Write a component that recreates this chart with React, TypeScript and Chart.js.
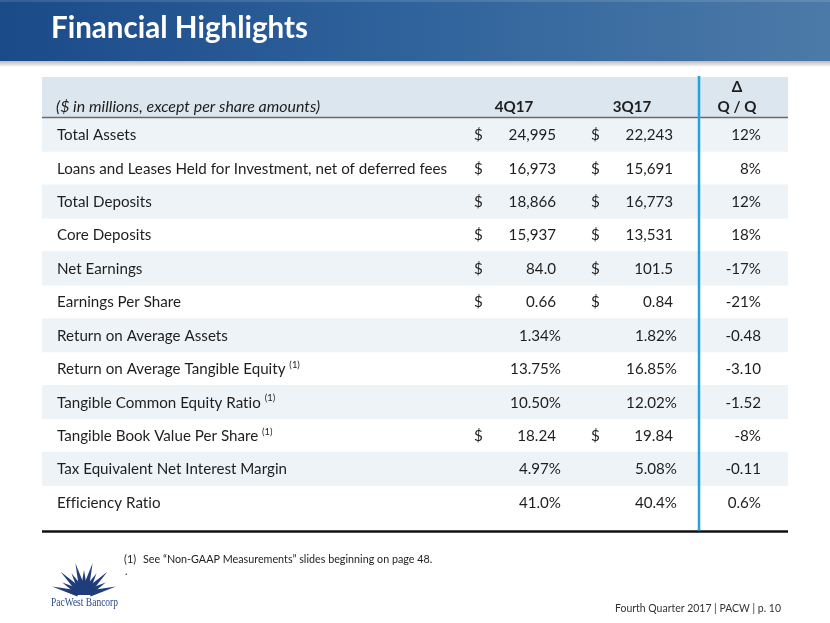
import React, { useEffect, useRef } from "react";
import { Chart, registerables } from "chart.js";

Chart.register(...registerables);

// ---------- data ----------
const rowLabels = [
  "Total Assets",
  "Loans and Leases Held for Investment, net of deferred fees",
  "Total Deposits",
  "Core Deposits",
  "Net Earnings",
  "Earnings Per Share",
  "Return on Average Assets",
  "Return on Average Tangible Equity",
  "Tangible Common Equity Ratio",
  "Tangible Book Value Per Share",
  "Tax Equivalent Net Interest Margin",
  "Efficiency Ratio",
];
const footnoteFlags = [false, false, false, false, false, false, false, true, true, true, false, false];
// row formats: usd = dollar amount, pct = percentage; digits = decimals
const rowKinds = ["usd", "usd", "usd", "usd", "usd", "usd", "pct", "pct", "pct", "usd", "pct", "pct"];
const rowDigits = [0, 0, 0, 0, 1, 2, 2, 2, 2, 2, 2, 1];
const q4Values = [24995, 16973, 18866, 15937, 84.0, 0.66, 1.34, 13.75, 10.5, 18.24, 4.97, 41.0];
const q3Values = [22243, 15691, 16773, 13531, 101.5, 0.84, 1.82, 16.85, 12.02, 19.84, 5.08, 40.4];
const deltaValues = ["12%", "8%", "12%", "18%", "-17%", "-21%", "-0.48", "-3.10", "-1.52", "-8%", "-0.11", "0.6%"];
const columnHeaders = ["4Q17", "3Q17"];
const deltaHeader = ["Δ", "Q / Q"];
const unitsNote = "($ in millions, except per share amounts)";
const titleText = "Financial Highlights";
const footnoteMark = "(1)";
const footnoteText = "See “Non-GAAP Measurements” slides beginning on page 48.";
const footerText = "Fourth Quarter 2017 | PACW | p. 10";
const logoText = "PacWest Bancorp";

// ---------- layout (table units along x: 0..TABLE_W) ----------
const TABLE_W = 746;
const COL = {
  label: 15,
  usd1: 432,
  v1: 514,
  v1pct: 519,
  usd2: 549,
  v2: 631,
  v2pct: 635,
  delta: 719,
  h1: 472,
  h2: 590,
  h3: 695,
  divider: 657,
};
const shade = rowLabels.map((_, i) => (i % 2 === 0 ? [0, TABLE_W] : null));

const FONT = "Lato, 'Open Sans', sans-serif";

function fitSize(ctx: CanvasRenderingContext2D, text: string, target: number, style: string) {
  ctx.font = `${style} 100px ${FONT}`;
  const w = ctx.measureText(text).width;
  return (100 * target) / w;
}

function fmt(v: number, d: number) {
  return v.toLocaleString("en-US", { minimumFractionDigits: d, maximumFractionDigits: d });
}

const tablePlugin = {
  id: "tablePlugin",
  beforeDraw(chart: any) {
    const ctx: CanvasRenderingContext2D = chart.ctx;
    const x = chart.scales.x;
    const area = chart.chartArea;
    const W = chart.width;
    ctx.save();
    (ctx as any).letterSpacing = "0.01px";
    // banner
    const g = ctx.createLinearGradient(0, 0, W, 0);
    g.addColorStop(0, "#1b4a89");
    g.addColorStop(0.5, "#30639c");
    g.addColorStop(1, "#4c7aa8");
    ctx.fillStyle = g;
    ctx.fillRect(0, 0, W, 61);
    const s = ctx.createLinearGradient(0, 61, 0, 67);
    s.addColorStop(0, "rgba(0,0,0,0.28)");
    s.addColorStop(1, "rgba(0,0,0,0)");
    ctx.fillStyle = s;
    ctx.fillRect(0, 61, W, 6);
    ctx.fillStyle = "rgba(255,255,255,0.12)";
    ctx.fillRect(0, 0, W, 2);
    // title
    const ts = fitSize(ctx, titleText, 257, "bold");
    ctx.font = `bold ${ts}px ${FONT}`;
    ctx.fillStyle = "#ffffff";
    ctx.textAlign = "left";
    ctx.textBaseline = "alphabetic";
    ctx.fillText(titleText, 51, 38);
    // header band
    ctx.fillStyle = "#dce6ee";
    ctx.fillRect(x.getPixelForValue(0), 77, x.getPixelForValue(TABLE_W) - x.getPixelForValue(0), area.top - 77);
    ctx.restore();
  },
  afterDraw(chart: any) {
    const ctx: CanvasRenderingContext2D = chart.ctx;
    const x = chart.scales.x;
    const y = chart.scales.y;
    const area = chart.chartArea;
    const L = x.getPixelForValue(0);
    const R = x.getPixelForValue(TABLE_W);
    ctx.save();
    (ctx as any).letterSpacing = "0.01px";
    const size = fitSize(ctx, rowLabels[1], 390, "normal");
    ctx.font = `normal ${size}px ${FONT}`;
    const cap = ctx.measureText("H").actualBoundingBoxAscent;
    const text = "#1e1e1e";

    // header texts
    const hb = area.top - 6;
    ctx.fillStyle = text;
    ctx.textBaseline = "alphabetic";
    const hs = fitSize(ctx, unitsNote, 264, "italic");
    ctx.font = `italic ${hs}px ${FONT}`;
    ctx.textAlign = "left";
    ctx.fillText(unitsNote, x.getPixelForValue(COL.label) - 1, hb);
    ctx.font = `bold ${size}px ${FONT}`;
    ctx.textAlign = "center";
    ctx.fillText(columnHeaders[0], x.getPixelForValue(COL.h1), hb);
    ctx.fillText(columnHeaders[1], x.getPixelForValue(COL.h2), hb);
    ctx.fillText(deltaHeader[0], x.getPixelForValue(COL.h3), hb - 20);
    ctx.fillText(deltaHeader[1], x.getPixelForValue(COL.h3), hb);

    // header rule
    ctx.strokeStyle = "#6b6b6b";
    ctx.lineWidth = 1.5;
    ctx.beginPath();
    ctx.moveTo(L, area.top - 0.5);
    ctx.lineTo(R, area.top - 0.5);
    ctx.stroke();

    // rows
    rowLabels.forEach((label, i) => {
      const base = y.getPixelForValue(i) + cap / 2;
      ctx.font = `normal ${size}px ${FONT}`;
      ctx.fillStyle = text;
      ctx.textAlign = "left";
      const lx = x.getPixelForValue(COL.label);
      ctx.fillText(label, lx, base);
      if (footnoteFlags[i]) {
        const w = ctx.measureText(label + " ").width;
        ctx.font = `normal ${size * 0.62}px ${FONT}`;
        ctx.fillText(footnoteMark, lx + w, base - size * 0.42);
        ctx.font = `normal ${size}px ${FONT}`;
      }
      const kind = rowKinds[i];
      const d = rowDigits[i];
      if (kind === "usd") {
        ctx.textAlign = "left";
        ctx.fillText("$", x.getPixelForValue(COL.usd1), base);
        ctx.fillText("$", x.getPixelForValue(COL.usd2), base);
        ctx.textAlign = "right";
        ctx.fillText(fmt(q4Values[i], d), x.getPixelForValue(COL.v1), base);
        ctx.fillText(fmt(q3Values[i], d), x.getPixelForValue(COL.v2), base);
      } else {
        ctx.textAlign = "right";
        ctx.fillText(fmt(q4Values[i], d) + "%", x.getPixelForValue(COL.v1pct), base);
        ctx.fillText(fmt(q3Values[i], d) + "%", x.getPixelForValue(COL.v2pct), base);
      }
      ctx.textAlign = "right";
      ctx.fillText(deltaValues[i], x.getPixelForValue(COL.delta), base);
    });

    // bottom rule
    const bottom = area.bottom + 12.5;
    ctx.strokeStyle = "#111111";
    ctx.lineWidth = 2.5;
    ctx.beginPath();
    ctx.moveTo(L, bottom);
    ctx.lineTo(R, bottom);
    ctx.stroke();

    // divider
    ctx.strokeStyle = "#22a3e0";
    ctx.lineWidth = 2.5;
    ctx.beginPath();
    const dx = x.getPixelForValue(COL.divider);
    ctx.moveTo(dx, 76);
    ctx.lineTo(dx, bottom - 1);
    ctx.stroke();

    // footnote
    ctx.fillStyle = "#222222";
    const fs = fitSize(ctx, footnoteText, 289, "normal");
    ctx.font = `normal ${fs}px ${FONT}`;
    ctx.textAlign = "left";
    ctx.fillText(footnoteMark, 124, 563);
    ctx.fillText(footnoteText, 143, 563);
    ctx.fillText(".", 125, 575);

    // footer
    const fts = fitSize(ctx, footerText, 166, "normal");
    ctx.font = `normal ${fts}px ${FONT}`;
    ctx.fillStyle = "#333333";
    ctx.textAlign = "right";
    ctx.fillText(footerText, 781, 612);

    // logo: sunburst
    const cx = 84, cy = 595;
    ctx.fillStyle = "#1f3d7a";
    const nRays = 11;
    for (let k = 0; k < nRays; k++) {
      const a = Math.PI * 1.04 + (Math.PI * 0.92 * (k + 0.5)) / nRays;
      const len = k % 2 === 0 ? 33 : 25;
      const r0 = 6;
      const bw = 3.2;
      const nx = -Math.sin(a), ny = Math.cos(a);
      const bx = cx + Math.cos(a) * r0, by = cy + Math.sin(a) * r0;
      ctx.beginPath();
      ctx.moveTo(bx - nx * bw, by - ny * bw);
      ctx.lineTo(cx + Math.cos(a) * len, cy + Math.sin(a) * len);
      ctx.lineTo(bx + nx * bw, by + ny * bw);
      ctx.closePath();
      ctx.fill();
    }
    ctx.beginPath();
    ctx.arc(cx, cy, 7, Math.PI, 0);
    ctx.closePath();
    ctx.fill();
    ctx.font = `normal 12px 'Liberation Serif', 'DejaVu Serif', serif`;
    ctx.fillStyle = "#2b4a8a";
    ctx.textAlign = "left";
    const lw = ctx.measureText(logoText).width;
    ctx.save();
    ctx.translate(51, 606);
    ctx.scale(67 / lw, 1);
    ctx.fillText(logoText, 0, 0);
    ctx.restore();

    ctx.restore();
  },
};

export default function App() {
  const ref = useRef<HTMLCanvasElement | null>(null);
  useEffect(() => {
    if (!ref.current) return;
    const chart = new Chart(ref.current, {
      type: "bar",
      data: {
        labels: rowLabels,
        datasets: [
          {
            data: shade as any,
            backgroundColor: "#eef3f7",
            borderWidth: 0,
            barPercentage: 1,
            categoryPercentage: 1,
          },
        ],
      },
      options: {
        indexAxis: "y",
        responsive: false,
        animation: false,
        events: [],
        layout: { padding: { left: 42, right: 42, top: 118, bottom: 104 } },
        scales: {
          x: { type: "linear", min: 0, max: TABLE_W, display: false },
          y: { type: "category", display: false, offset: true },
        },
        plugins: { legend: { display: false }, tooltip: { enabled: false } },
      },
      plugins: [tablePlugin],
    });
    return () => chart.destroy();
  }, []);
  return (
    <div style={{ position: "absolute", left: 0, top: 0, width: 830, height: 623, background: "#ffffff" }}>
      <canvas ref={ref} width={830} height={623} />
    </div>
  );
}
